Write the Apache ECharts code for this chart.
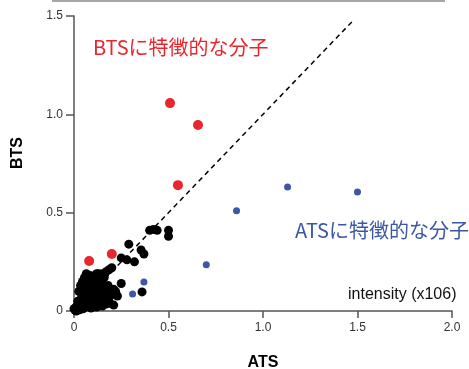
<!DOCTYPE html>
<html>
<head>
<meta charset="utf-8">
<script src="https://cdn.jsdelivr.net/npm/echarts@6/dist/echarts.min.js"></script>
<style>
  html, body { margin: 0; padding: 0; background: #fff; }
  #main { width: 469px; height: 369px; }
</style>
</head>
<body>
<div id="main"></div>
<script>
// 共通の分子 (black)
var commonPts = [
  [0.40, 0.41], [0.42, 0.415], [0.44, 0.41], [0.50, 0.41], [0.50, 0.38],
  [0.29, 0.34], [0.355, 0.31], [0.37, 0.29], [0.28, 0.26], [0.32, 0.25],
  [0.25, 0.27], [0.20, 0.22], [0.185, 0.21], [0.13, 0.19], [0.15, 0.19],
  [0.25, 0.14], [0.21, 0.11], [0.23, 0.076], [0.36, 0.097], [0.17, 0.2],
  [0.005, 0.005], [0.01, 0.02], [0.015, 0.01], [0.02, 0.03], [0.025, 0.015],
  [0.03, 0.04], [0.035, 0.025], [0.04, 0.05], [0.045, 0.02], [0.05, 0.06],
  [0.055, 0.035], [0.06, 0.075], [0.065, 0.045], [0.07, 0.09], [0.075, 0.05],
  [0.08, 0.1], [0.085, 0.06], [0.09, 0.12], [0.095, 0.07], [0.1, 0.13],
  [0.105, 0.08], [0.11, 0.15], [0.115, 0.09], [0.12, 0.16], [0.125, 0.1],
  [0.13, 0.17], [0.135, 0.085], [0.14, 0.12], [0.145, 0.07], [0.15, 0.14],
  [0.155, 0.1], [0.16, 0.06], [0.17, 0.12], [0.18, 0.09], [0.06, 0.1],
  [0.08, 0.13], [0.1, 0.16], [0.04, 0.07], [0.02, 0.05], [0.07, 0.03],
  [0.09, 0.04], [0.11, 0.05], [0.13, 0.045], [0.05, 0.012], [0.03, 0.006],
  [0.012, 0.0], [0.0, 0.012], [0.19, 0.04], [0.21, 0.03], [0.17, 0.035],
  [0.15, 0.025], [0.12, 0.02], [0.09, 0.015], [0.06, 0.02], [0.1, 0.1],
  [0.16, 0.17], [0.14, 0.15], [0.12, 0.13], [0.08, 0.08], [0.06, 0.055],
  [0.025, 0.1], [0.035, 0.13], [0.045, 0.15], [0.055, 0.17], [0.065, 0.19],
  [0.075, 0.16], [0.085, 0.18], [0.095, 0.17], [0.11, 0.18], [0.12, 0.19],
  [0.05, 0.11], [0.07, 0.13], [0.14, 0.06], [0.16, 0.08], [0.19, 0.075],
  [0.2, 0.09], [0.22, 0.1], [0.18, 0.13], [0.13, 0.03], [0.11, 0.025]
];
// BTSに特徴的な分子 (red)
var btsPts = [[0.508, 1.057], [0.656, 0.946], [0.55, 0.64], [0.08, 0.254], [0.2, 0.29]];
// ATSに特徴的な分子 (blue)
var atsPts = [[1.13, 0.63], [1.50, 0.605], [0.86, 0.51], [0.70, 0.235], [0.37, 0.147], [0.31, 0.087]];
var diagLine = [[0, 0], [1.47, 1.47]];
var xTicks = ['0', '0.5', '1.0', '1.5', '2.0'];
var yTicks = ['0', '0.5', '1.0', '1.5'];

var myChart = echarts.init(document.getElementById('main'));
var option = {
  backgroundColor: '#FFFFFF',
  animation: false,
  grid: { left: 74, right: 17, top: 16, bottom: 58, outerBoundsMode: 'none' },
  xAxis: {
    type: 'value', min: 0, max: 2, interval: 0.5,
    name: 'ATS', nameLocation: 'middle', nameGap: 44,
    nameTextStyle: { fontSize: 16, fontWeight: 'bold', color: '#000', fontFamily: 'Liberation Sans' },
    axisLine: { lineStyle: { color: '#555', width: 1.5 } },
    axisTick: { length: 7, lineStyle: { color: '#555', width: 1.5 } },
    axisLabel: { color: '#333', fontSize: 12, fontFamily: 'Liberation Sans', margin: 11,
      formatter: function (v) { return xTicks[Math.round(v / 0.5)]; } },
    splitLine: { show: false }
  },
  yAxis: {
    type: 'value', min: 0, max: 1.5, interval: 0.5,
    axisLine: { show: true, lineStyle: { color: '#555', width: 1.5 } },
    axisTick: { show: true, length: 8, lineStyle: { color: '#555', width: 1.5 } },
    axisLabel: { color: '#333', fontSize: 12, fontFamily: 'Liberation Sans', margin: 11,
      formatter: function (v) { return yTicks[Math.round(v / 0.5)]; } },
    splitLine: { show: false }
  },
  graphic: [
    { type: 'line', shape: { x1: 52, y1: 1, x2: 445, y2: 1 }, style: { stroke: '#888', lineWidth: 1.5 } },
    { type: 'text', x: 18, y: 153, rotation: Math.PI / 2,
      style: { text: 'BTS', fill: '#000', fontSize: 16, fontWeight: 'bold', fontFamily: 'Liberation Sans',
        textAlign: 'center', textVerticalAlign: 'middle' } },
    { type: 'text', left: 93, top: 37, style: { text: 'BTSに特徴的な分子', fill: '#e8262d', fontSize: 20, fontFamily: 'Noto Sans CJK JP' } },
    { type: 'text', left: 295, top: 220, style: { text: 'ATSに特徴的な分子', fill: '#3d57a6', fontSize: 20, fontFamily: 'Noto Sans CJK JP' } },
    { type: 'text', left: 348, top: 287, style: { text: 'intensity (x106)', fill: '#111', fontSize: 16, fontFamily: 'Liberation Sans' } }
  ],
  series: [
    {
      type: 'line', data: diagLine, symbol: 'none', silent: true,
      lineStyle: { color: '#000', width: 1.5, type: [5, 4] }
    },
    {
      type: 'scatter', data: commonPts, symbolSize: 9,
      itemStyle: { color: '#000', opacity: 1 }
    },
    {
      type: 'scatter', data: btsPts, symbolSize: 10,
      itemStyle: { color: '#e8262d', opacity: 1 }
    },
    {
      type: 'scatter', data: atsPts, symbolSize: 7,
      itemStyle: { color: '#3d57a6', opacity: 1 }
    }
  ]
};
myChart.setOption(option);
window.addEventListener('resize', function () {
  myChart.resize();
});
</script>
</body>
</html>
